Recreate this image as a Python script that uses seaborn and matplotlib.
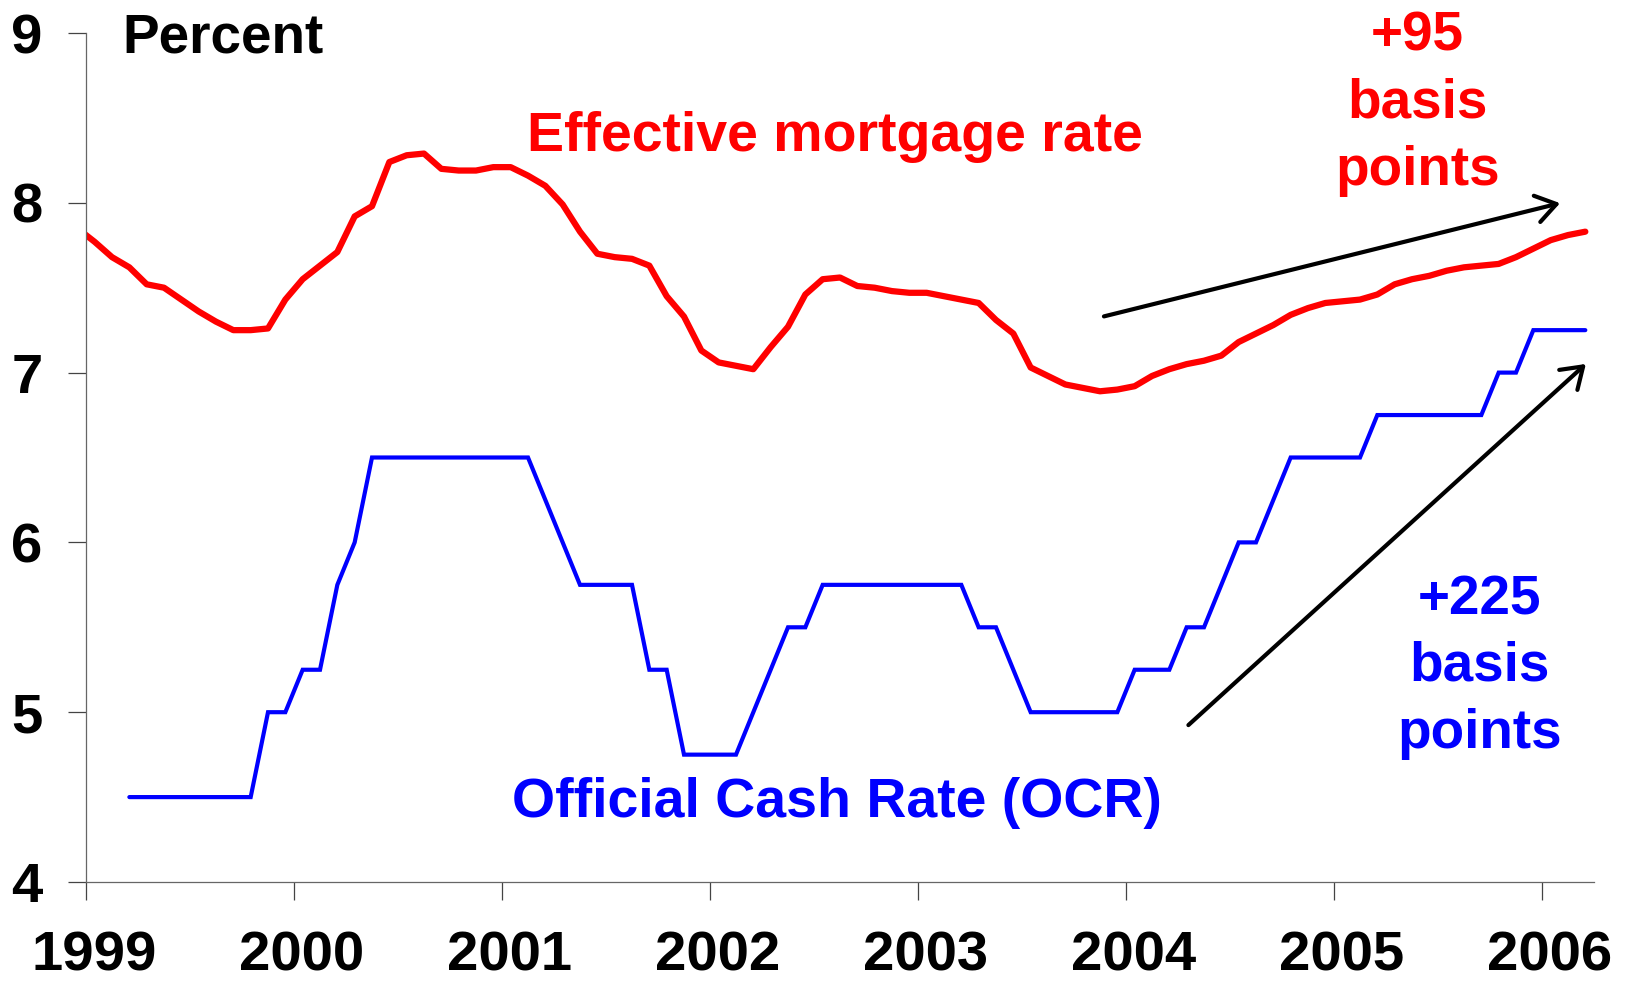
import matplotlib
matplotlib.use("Agg")
import matplotlib.pyplot as plt
import matplotlib.transforms as mtransforms
import numpy as np
import pandas as pd
import seaborn as sns

# ---------------- data (monthly) ----------------
# Effective mortgage rate, Dec 1998 .. Mar 2006
mortgage_start = "1998-12"
mortgage_rate = [
    7.85,                                                                    # Dec 1998
    7.77, 7.68, 7.62, 7.52, 7.50, 7.43, 7.36, 7.30, 7.25, 7.25, 7.26, 7.43,  # 1999
    7.55, 7.63, 7.71, 7.92, 7.98, 8.24, 8.28, 8.29, 8.20, 8.19, 8.19, 8.21,  # 2000
    8.21, 8.16, 8.10, 7.99, 7.83, 7.70, 7.68, 7.67, 7.63, 7.45, 7.33, 7.13,  # 2001
    7.06, 7.04, 7.02, 7.15, 7.27, 7.46, 7.55, 7.56, 7.51, 7.50, 7.48, 7.47,  # 2002
    7.47, 7.45, 7.43, 7.41, 7.31, 7.23, 7.03, 6.98, 6.93, 6.91, 6.89, 6.90,  # 2003
    6.92, 6.98, 7.02, 7.05, 7.07, 7.10, 7.18, 7.23, 7.28, 7.34, 7.38, 7.41,  # 2004
    7.42, 7.43, 7.46, 7.52, 7.55, 7.57, 7.60, 7.62, 7.63, 7.64, 7.68, 7.73,  # 2005
    7.78, 7.81, 7.83,                                                        # 2006
]

# Official Cash Rate, Mar 1999 .. Mar 2006
ocr_start = "1999-03"
ocr_rate = [
    4.50, 4.50, 4.50, 4.50, 4.50, 4.50, 4.50, 4.50, 5.00, 5.00,              # 1999 (Mar-Dec)
    5.25, 5.25, 5.75, 6.00, 6.50, 6.50, 6.50, 6.50, 6.50, 6.50, 6.50, 6.50,  # 2000
    6.50, 6.50, 6.25, 6.00, 5.75, 5.75, 5.75, 5.75, 5.25, 5.25, 4.75, 4.75,  # 2001
    4.75, 4.75, 5.00, 5.25, 5.50, 5.50, 5.75, 5.75, 5.75, 5.75, 5.75, 5.75,  # 2002
    5.75, 5.75, 5.75, 5.50, 5.50, 5.25, 5.00, 5.00, 5.00, 5.00, 5.00, 5.00,  # 2003
    5.25, 5.25, 5.25, 5.50, 5.50, 5.75, 6.00, 6.00, 6.25, 6.50, 6.50, 6.50,  # 2004
    6.50, 6.50, 6.75, 6.75, 6.75, 6.75, 6.75, 6.75, 6.75, 7.00, 7.00, 7.25,  # 2005
    7.25, 7.25, 7.25,                                                        # 2006
]

year_ticks = [1999, 2000, 2001, 2002, 2003, 2004, 2005, 2006]
year_labels = ["1999", "2000", "2001", "2002", "2003", "2004", "2005", "2006"]
y_ticks = [4, 5, 6, 7, 8, 9]
y_labels = ["4", "5", "6", "7", "8", "9"]


def monthly_positions(start, n):
    per = pd.period_range(start, periods=n, freq="M")
    return per.year + (per.month - 0.5) / 12.0


df_mort = pd.DataFrame({"date": monthly_positions(mortgage_start, len(mortgage_rate)),
                        "rate": mortgage_rate})
df_ocr = pd.DataFrame({"date": monthly_positions(ocr_start, len(ocr_rate)),
                       "rate": ocr_rate})

# ---------------- style ----------------
sns.set_theme(style="white")
plt.rcParams["font.family"] = ["Liberation Sans", "DejaVu Sans"]
plt.rcParams["font.weight"] = "bold"

RED = "#FF0000"
BLUE = "#0000FF"

fig = plt.figure(figsize=(16.28, 9.86), dpi=100)
ax = fig.add_axes([0.05283, 0.10548, 0.92628, 0.86105])

sns.lineplot(data=df_mort, x="date", y="rate", ax=ax, color=RED, linewidth=4.5,
             solid_capstyle="round", solid_joinstyle="round")
sns.lineplot(data=df_ocr, x="date", y="rate", ax=ax, color=BLUE, linewidth=3.0,
             solid_capstyle="round", solid_joinstyle="miter")

ax.set_xlim(1999.0, 2006.25)
ax.set_ylim(4, 9)
ax.set_xlabel("")
ax.set_ylabel("")

for s in ["top", "right"]:
    ax.spines[s].set_visible(False)
for s in ["left", "bottom"]:
    ax.spines[s].set_color("#666666")
    ax.spines[s].set_linewidth(0.9)

ax.set_xticks(year_ticks)
ax.set_xticklabels(year_labels)
ax.set_yticks(y_ticks)
ax.set_yticklabels(y_labels)
ax.tick_params(axis="both", which="major", direction="out", length=12.7, width=0.9,
               color="#444444", labelsize=40.5, labelcolor="black",
               bottom=True, left=True)
ax.tick_params(axis="x", pad=22)
ax.tick_params(axis="y", pad=18.5)
for lab in ax.get_xticklabels() + ax.get_yticklabels():
    lab.set_fontweight("bold")
offset = mtransforms.ScaledTranslation(8 / 100, 0, fig.dpi_scale_trans)
for lab in ax.get_xticklabels():
    lab.set_transform(lab.get_transform() + offset)

# ---------------- text ----------------
ax.text(1999.173, 8.888, "Percent", fontsize=39.5, fontweight="bold",
        color="black", ha="left", va="baseline")
ax.text(2002.60, 8.306, "Effective mortgage rate", fontsize=40,
        fontweight="bold", color=RED, ha="center", va="baseline")
ax.text(2002.61, 4.381, "Official Cash Rate (OCR)", fontsize=40,
        fontweight="bold", color=BLUE, ha="center", va="baseline")

for txt, yy in zip(["+95", "basis", "points"], [8.896, 8.500, 8.106]):
    ax.text(2005.40, yy, txt, fontsize=39.5, fontweight="bold", color=RED,
            ha="center", va="baseline")
for txt, yy in zip(["+225", "basis", "points"], [5.576, 5.184, 4.792]):
    ax.text(2005.70, yy, txt, fontsize=39.5, fontweight="bold", color=BLUE,
            ha="center", va="baseline")

arrow_style = dict(arrowstyle="->,head_length=0.4,head_width=0.27", lw=3.0,
                   color="black", mutation_scale=36, shrinkA=0, shrinkB=0)
ax.annotate("", xy=(2006.087, 7.998), xytext=(2003.894, 7.331),
            arrowprops=arrow_style)
ax.annotate("", xy=(2006.211, 7.051), xytext=(2004.30, 4.924),
            arrowprops=arrow_style)

fig.savefig("out.png", dpi=100, facecolor="white")
